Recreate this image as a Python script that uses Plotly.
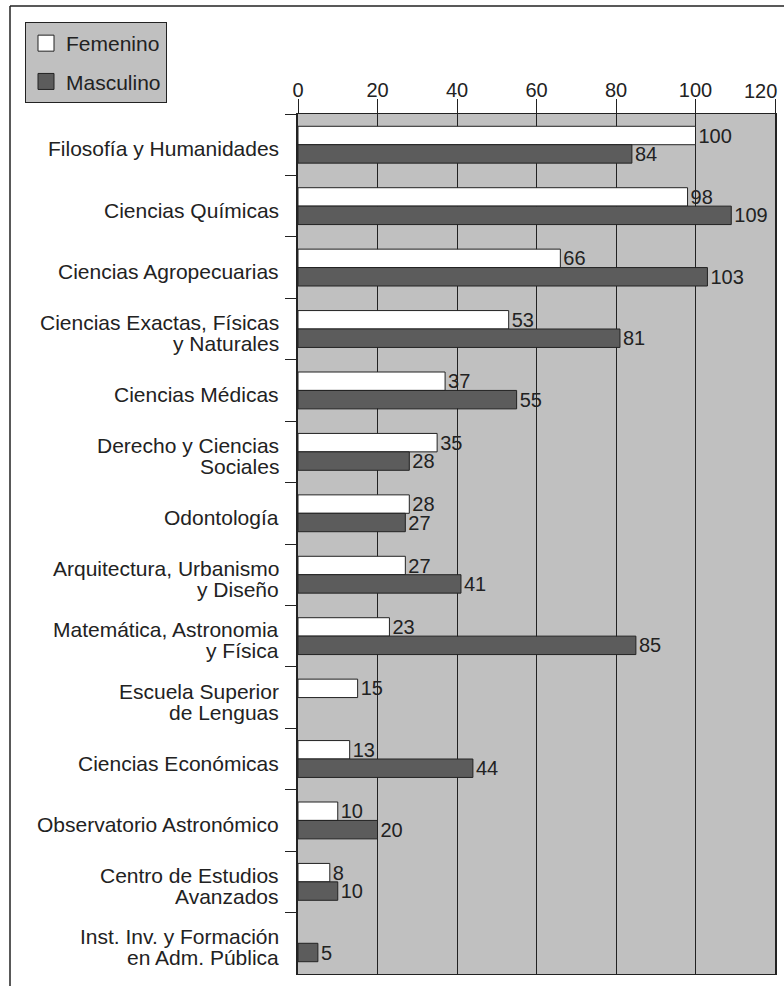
import plotly.graph_objects as go

categories = [
    "Filosofía y Humanidades",
    "Ciencias Químicas",
    "Ciencias Agropecuarias",
    "Ciencias Exactas, Físicas<br>y Naturales",
    "Ciencias Médicas",
    "Derecho y Ciencias<br>Sociales",
    "Odontología",
    "Arquitectura, Urbanismo<br>y Diseño",
    "Matemática, Astronomia<br>y Física",
    "Escuela Superior<br>de Lenguas",
    "Ciencias Económicas",
    "Observatorio Astronómico",
    "Centro de Estudios<br>Avanzados",
    "Inst. Inv. y Formación<br>en Adm. Pública",
]
femenino = [100, 98, 66, 53, 37, 35, 28, 27, 23, 15, 13, 10, 8, None]
masculino = [84, 109, 103, 81, 55, 28, 27, 41, 85, None, 44, 20, 10, 5]
x_ticks = [0, 20, 40, 60, 80, 100, 120]
x_tick_labels = ["0", "20", "40", "60", "80", "100", "120"]

FONT = "Liberation Sans, Arial, sans-serif"
DARK = "#222222"
FEM_COLOR = "#ffffff"
MAS_COLOR = "#5c5c5c"
BG = "#c0c0c0"

fig = go.Figure()

def lbl(vals):
    return ["" if v is None else str(v) for v in vals]

fig.add_trace(go.Bar(
    name="Femenino", y=categories, x=femenino, orientation="h",
    marker=dict(color=FEM_COLOR, line=dict(color=DARK, width=1)),
    text=lbl(femenino), textposition="outside", cliponaxis=False,
    textfont=dict(family=FONT, size=20, color=DARK),
    constraintext="none", showlegend=False,
))
fig.add_trace(go.Bar(
    name="Masculino", y=categories, x=masculino, orientation="h",
    marker=dict(color=MAS_COLOR, line=dict(color=DARK, width=1)),
    text=lbl(masculino), textposition="outside", cliponaxis=False,
    textfont=dict(family=FONT, size=20, color=DARK),
    constraintext="none", showlegend=False,
))

# legend entries
for nm, col, grp in [("Femenino", FEM_COLOR, "f"), ("Masculino", MAS_COLOR, "m")]:
    fig.add_trace(go.Scatter(
        x=[None], y=[None], mode="markers", name=nm, legendgroup=grp,
        marker=dict(symbol="square", size=20, color=col, line=dict(color=DARK, width=1)),
        showlegend=True,
    ))

L, R, T, B = 298, 9, 114, 12
W, H = 784, 986
pw, ph = W - L - R, H - T - B

def px_x(px):
    return (px - L) / pw

def px_y(py):
    return (H - B - py) / ph

# category labels as annotations (tight line spacing like the reference)
LINE_H = 21
annotations = []
for cat in categories:
    lines = cat.split("<br>")
    n = len(lines)
    for i, ln in enumerate(lines):
        annotations.append(dict(
            x=px_x(281), xref="paper", y=cat, yref="y",
            text=ln, showarrow=False, xanchor="right", yanchor="middle",
            yshift=((n - 1) / 2 - i) * LINE_H - 4,
            font=dict(family=FONT, size=21, color=DARK),
        ))

# last x tick label sits flush with the plot's right edge
tick_text = x_tick_labels[:-1] + [""]
annotations.append(dict(
    x=x_ticks[-1], xref="x", y=px_y(91), yref="paper",
    text=x_tick_labels[-1], showarrow=False, xanchor="right", yanchor="middle",
    xshift=4, font=dict(family=FONT, size=20, color=DARK),
))

fig.update_layout(
    width=W, height=H,
    margin=dict(l=L, r=R, t=T, b=B, pad=0, autoexpand=False),
    paper_bgcolor="white", plot_bgcolor=BG,
    barmode="group", bargap=0.4, bargroupgap=0,
    font=dict(family=FONT, size=20, color=DARK),
    showlegend=True,
    legend=dict(
        x=px_x(25), y=px_y(22), xanchor="left", yanchor="top",
        bgcolor=BG, bordercolor=DARK, borderwidth=1,
        font=dict(family=FONT, size=21, color=DARK),
        traceorder="grouped", tracegroupgap=8, itemsizing="trace",
    ),
    xaxis=dict(
        side="top", range=[0, 120], tickvals=x_ticks, ticktext=tick_text,
        automargin=False, ticklabelstandoff=-6,
        ticks="outside", ticklen=14, tickcolor=DARK, tickwidth=1,
        showgrid=True, gridcolor=DARK, gridwidth=1,
        showline=True, linecolor=DARK, linewidth=1, mirror=True,
        zeroline=False, tickfont=dict(size=20, color=DARK),
    ),
    yaxis=dict(
        autorange="reversed", type="category", automargin=False,
        ticks="outside", ticklen=11, tickcolor=DARK, tickwidth=1,
        tickson="boundaries", showgrid=False, showticklabels=False,
        showline=True, linecolor=DARK, linewidth=2, mirror=True,
    ),
    annotations=annotations,
    shapes=[
        dict(type="line", xref="paper", yref="paper",
             x0=px_x(10), x1=px_x(784), y0=px_y(6), y1=px_y(6),
             line=dict(color=DARK, width=1.5)),
        dict(type="line", xref="paper", yref="paper",
             x0=px_x(10), x1=px_x(10), y0=px_y(6), y1=px_y(986),
             line=dict(color=DARK, width=1.5)),
    ],
)

fig.write_html("out.html", config={"displayModeBar": False})
with open("out.html", encoding="utf-8") as f:
    html = f.read()
html = html.replace("<head>", "<head><style>html,body{margin:0;padding:0;overflow:hidden;}</style>", 1)
with open("out.html", "w", encoding="utf-8") as f:
    f.write(html)
